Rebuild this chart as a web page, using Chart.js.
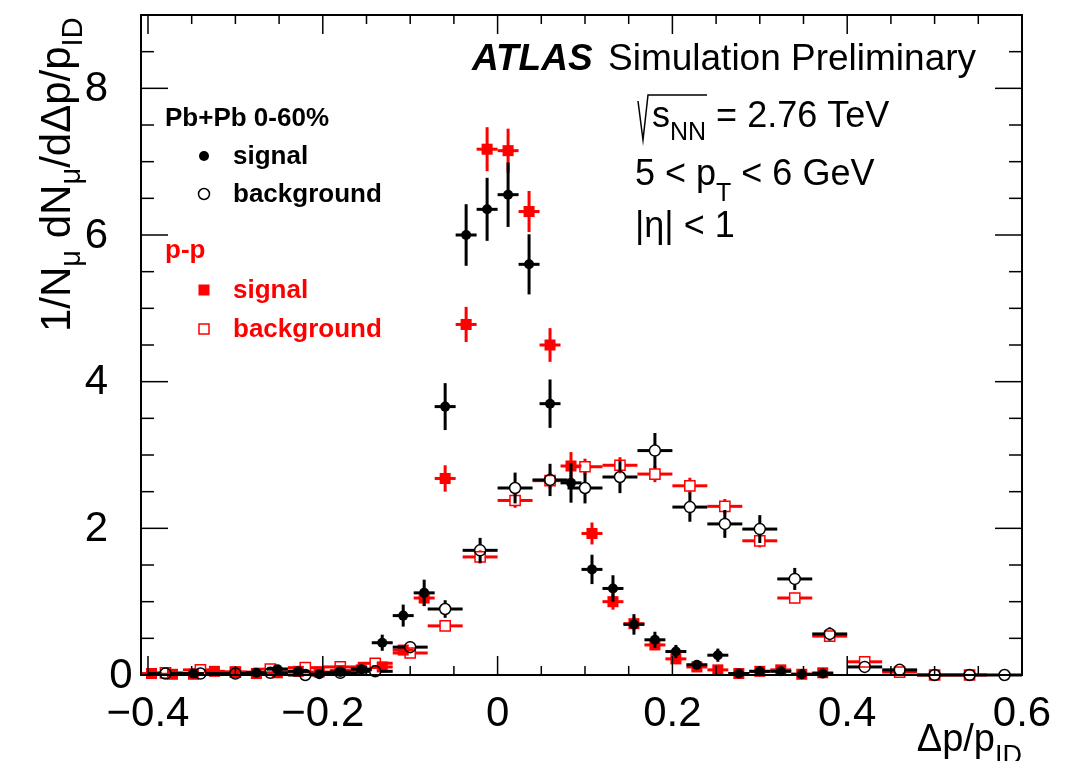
<!DOCTYPE html>
<html>
<head>
<meta charset="utf-8">
<title>Muon momentum balance</title>
<script src="https://cdn.jsdelivr.net/npm/chart.js@4.4.0/dist/chart.umd.min.js"></script>
<style>
  html, body { margin: 0; padding: 0; background: #fff; }
</style>
</head>
<body>
<canvas id="balanceChart" width="1080" height="761"></canvas>
<script>
const FONT = '"Liberation Sans", Arial, Helvetica, sans-serif';
const RED = '#ff0000';

// bin centres: signal histograms use 0.024 wide bins, background 0.04
const signalBins = [
    -0.396, -0.372, -0.348, -0.324, -0.300, -0.276, -0.252, -0.228, -0.204, -0.180, -0.156,
    -0.132, -0.108, -0.084, -0.060, -0.036, -0.012, 0.012, 0.036, 0.060, 0.084, 0.108,
    0.132, 0.156, 0.180, 0.204, 0.228, 0.252, 0.276, 0.300, 0.324, 0.348, 0.372
];
const backgroundBins = [
    -0.38, -0.34, -0.30, -0.26, -0.22, -0.18, -0.14, -0.10, -0.06, -0.02, 0.02, 0.06, 0.10,
    0.14, 0.18, 0.22, 0.26, 0.30, 0.34, 0.38, 0.42, 0.46, 0.50, 0.54, 0.58
];

const pbpbSignal = [
    null, null, 0.02, null, null, 0.03, 0.08, 0.05, 0.01, 0.04, 0.08,
    0.44, 0.81, 1.12, 3.66, 6.00, 6.35, 6.55, 5.60, 3.70, 2.62, 1.44,
    1.18, 0.69, 0.48, 0.32, 0.14, 0.27, 0.02, 0.05, 0.05, 0.01, 0.02
];
const pbpbSignalErr = [
    null, null, 0.02, null, null, 0.03, 0.05, 0.04, 0.02, 0.04, 0.05,
    0.11, 0.15, 0.18, 0.32, 0.42, 0.43, 0.44, 0.41, 0.33, 0.27, 0.20,
    0.18, 0.14, 0.11, 0.09, 0.06, 0.09, 0.02, 0.04, 0.04, 0.02, 0.02
];
const ppSignal = [
    0.02, 0.01, 0.01, 0.05, 0.04, 0.02, 0.03, 0.05, 0.04, 0.06, 0.07,
    0.11, 0.34, 1.05, 2.68, 4.78, 7.17, 7.15, 6.32, 4.50, 2.85, 1.93,
    1.00, 0.70, 0.41, 0.22, 0.11, 0.07, 0.02, 0.05, 0.07, 0.01, 0.03
];
const ppSignalErr = [
    0.02, 0.01, 0.01, 0.02, 0.02, 0.02, 0.02, 0.02, 0.02, 0.03, 0.03,
    0.04, 0.07, 0.11, 0.18, 0.24, 0.30, 0.30, 0.28, 0.23, 0.19, 0.15,
    0.11, 0.09, 0.07, 0.05, 0.04, 0.03, 0.02, 0.02, 0.03, 0.01, 0.02
];
const pbpbBackground = [
    0.02, 0.02, 0.02, 0.03, 0.00, 0.03, 0.05, 0.38, 0.90, 1.70, 2.55, 2.66, 2.55,
    2.70, 3.06, 2.29, 2.06, 1.99, 1.31, 0.56, 0.11, 0.07, 0.00, 0.00, 0.00
];
const pbpbBackgroundErr = [
    0.02, 0.02, 0.02, 0.03, 0.01, 0.03, 0.03, 0.08, 0.12, 0.17, 0.21, 0.22, 0.21,
    0.22, 0.24, 0.20, 0.19, 0.19, 0.15, 0.09, 0.04, 0.03, 0.01, 0.01, 0.01
];
const ppBackground = [
    0.03, 0.07, 0.04, 0.08, 0.10, 0.11, 0.16, 0.30, 0.67, 1.61, 2.38, 2.65, 2.84,
    2.86, 2.74, 2.58, 2.30, 1.83, 1.05, 0.53, 0.18, 0.04, 0.00, 0.00, null
];
const ppBackgroundErr = [
    0.01, 0.02, 0.01, 0.02, 0.02, 0.02, 0.03, 0.04, 0.06, 0.09, 0.10, 0.11, 0.11,
    0.11, 0.11, 0.11, 0.10, 0.09, 0.07, 0.05, 0.03, 0.01, 0.01, 0.01, null
];

const xTicks = [-0.4, -0.2, 0, 0.2, 0.4, 0.6];
const xTickLabels = ['\u22120.4', '\u22120.2', '0', '0.2', '0.4', '0.6'];
const yTicks = [0, 2, 4, 6, 8];
const yTickLabels = ['0', '2', '4', '6', '8'];

function toPoints(xs, ys, errs) {
    return xs.map((x, i) => ys[i] == null ? null : { x: x, y: ys[i], err: errs[i] })
             .filter(p => p !== null);
}

// draws a run of text pieces (normal + sub-scripts) and returns the end x
function drawRich(ctx, x, y, parts) {
    let cx = x;
    parts.forEach(p => {
        ctx.font = p.font;
        ctx.fillText(p.t, cx, y + (p.dy || 0));
        cx += ctx.measureText(p.t).width;
    });
    return cx;
}

function richWidth(ctx, parts) {
    let w = 0;
    parts.forEach(p => { ctx.font = p.font; w += ctx.measureText(p.t).width; });
    return w;
}

function line(ctx, x1, y1, x2, y2) {
    ctx.beginPath();
    ctx.moveTo(x1, y1);
    ctx.lineTo(x2, y2);
    ctx.stroke();
}

// error bars are drawn just before each dataset so markers sit on top of them
const errorBars = {
    id: 'errorBars',
    beforeDatasetDraw(chart, args) {
        const ds = chart.data.datasets[args.index];
        const xs = chart.scales.x, ys = chart.scales.y;
        const ctx = chart.ctx;
        const gap = ds.barGap || 0;
        ctx.save();
        ctx.strokeStyle = ds.barColor;
        ctx.lineWidth = 3;
        ds.data.forEach(p => {
            const cx = xs.getPixelForValue(p.x);
            const cy = ys.getPixelForValue(p.y);
            const xl = xs.getPixelForValue(p.x - ds.halfWidth);
            const xr = xs.getPixelForValue(p.x + ds.halfWidth);
            const yt = ys.getPixelForValue(p.y + p.err);
            const yb = ys.getPixelForValue(Math.max(0, p.y - p.err));
            line(ctx, xl, cy, cx - gap, cy);
            line(ctx, cx + gap, cy, xr, cy);
            if (yt < cy - gap) line(ctx, cx, yt, cx, cy - gap);
            if (yb > cy + gap) line(ctx, cx, cy + gap, cx, yb);
        });
        ctx.restore();
    }
};

// frame, inward ticks, axis labels, titles and the text boxes
const decorations = {
    id: 'decorations',
    afterDraw(chart) {
        const ctx = chart.ctx;
        const a = chart.chartArea;
        const xs = chart.scales.x, ys = chart.scales.y;
        ctx.save();
        ctx.strokeStyle = '#000';
        ctx.fillStyle = '#000';

        ctx.lineWidth = 2;
        ctx.strokeRect(a.left, a.top, a.right - a.left, a.bottom - a.top);

        ctx.lineWidth = 1.5;
        for (let i = 0; i <= 20; i++) {
            const v = -0.4 + i * 0.05;
            const px = xs.getPixelForValue(v);
            const len = i % 4 === 0 ? 19 : 9;
            line(ctx, px, a.bottom, px, a.bottom - len);
            line(ctx, px, a.top, px, a.top + len);
        }
        for (let i = 0; i <= 18; i++) {
            const v = i * 0.5;
            const py = ys.getPixelForValue(v);
            const len = i % 4 === 0 ? 27 : 13;
            line(ctx, a.left, py, a.left + len, py);
            line(ctx, a.right, py, a.right - len, py);
        }

        // tick labels
        ctx.font = '42px ' + FONT;
        ctx.textBaseline = 'middle';
        ctx.textAlign = 'center';
        xTicks.forEach((v, i) => {
            ctx.fillText(xTickLabels[i], xs.getPixelForValue(v), 714);
        });
        yTicks.forEach((v, i) => {
            const py = ys.getPixelForValue(v);
            if (v === 0) {
                ctx.textAlign = 'center';
                ctx.fillText(yTickLabels[i], 121, py + 1);
            } else {
                ctx.textAlign = 'right';
                ctx.fillText(yTickLabels[i], 108, py + 1);
            }
        });

        ctx.textBaseline = 'alphabetic';
        ctx.textAlign = 'left';

        // x title, right aligned with the frame
        const big = '38px ' + FONT, small = '27px ' + FONT;
        const xTitle = [
            { t: '\u0394p/p', font: big },
            { t: 'ID', font: small, dy: 13 }
        ];
        drawRich(ctx, a.right - richWidth(ctx, xTitle), 751, xTitle);

        // y title, rotated
        const yBig = '42px ' + FONT, ySmall = '29px ' + FONT;
        ctx.save();
        ctx.translate(70, 332);
        ctx.rotate(-Math.PI / 2);
        drawRich(ctx, 0, 0, [
            { t: '1/N', font: yBig },
            { t: '\u03bc', font: ySmall, dy: 10 },
            { t: ' dN', font: yBig },
            { t: '\u03bc', font: ySmall, dy: 10 },
            { t: '/d\u0394p/p', font: yBig },
            { t: 'ID', font: ySmall, dy: 12 }
        ]);
        ctx.restore();

        // experiment label
        ctx.font = 'italic bold 37px ' + FONT;
        ctx.fillText('ATLAS', 472, 70);
        ctx.font = '37px ' + FONT;
        ctx.fillText('Simulation Preliminary', 608, 70);

        const t36 = '36px ' + FONT, t25 = '25px ' + FONT;
        ctx.lineWidth = 1.5;
        ctx.beginPath();
        ctx.moveTo(638, 101);
        ctx.lineTo(643, 140);
        ctx.lineTo(648, 95);
        ctx.lineTo(707, 95);
        ctx.stroke();
        drawRich(ctx, 652, 127, [
            { t: 's', font: t36 },
            { t: 'NN', font: t25, dy: 13 },
            { t: ' = 2.76 TeV', font: t36 }
        ]);
        drawRich(ctx, 635, 185, [
            { t: '5 < p', font: t36 },
            { t: 'T', font: t25, dy: 16 },
            { t: ' < 6 GeV', font: t36 }
        ]);
        drawRich(ctx, 635, 237, [
            { t: '|\u03b7| < 1', font: t36 }
        ]);

        // legend
        const lb = 'bold 26px ' + FONT;
        ctx.font = lb;
        ctx.fillText('Pb+Pb 0-60%', 165, 126);
        ctx.fillText('signal', 233, 164);
        ctx.fillText('background', 233, 202);
        ctx.beginPath();
        ctx.arc(204, 156, 5, 0, Math.PI * 2);
        ctx.fill();
        ctx.beginPath();
        ctx.arc(204, 194, 5.5, 0, Math.PI * 2);
        ctx.stroke();

        ctx.fillStyle = RED;
        ctx.strokeStyle = RED;
        ctx.fillText('p-p', 165, 258);
        ctx.fillText('signal', 233, 298);
        ctx.fillText('background', 233, 337);
        ctx.fillRect(198.5, 284.5, 11, 11);
        ctx.strokeRect(199, 324, 10, 10);

        ctx.restore();
    }
};

const ctx = document.getElementById('balanceChart').getContext('2d');

new Chart(ctx, {
    type: 'scatter',
    data: {
        datasets: [
            {
                label: 'Pb+Pb signal',
                data: toPoints(signalBins, pbpbSignal, pbpbSignalErr),
                pointStyle: 'circle',
                pointRadius: 5,
                backgroundColor: '#000',
                borderColor: '#000',
                borderWidth: 0,
                barColor: '#000',
                halfWidth: 0.012,
                clip: false
            },
            {
                label: 'Pb+Pb background',
                data: toPoints(backgroundBins, pbpbBackground, pbpbBackgroundErr),
                pointStyle: 'circle',
                pointRadius: 5.5,
                backgroundColor: 'rgba(0,0,0,0)',
                borderColor: '#000',
                borderWidth: 1.5,
                barColor: '#000',
                barGap: 5.5,
                halfWidth: 0.02,
                clip: false
            },
            {
                label: 'p-p signal',
                data: toPoints(signalBins, ppSignal, ppSignalErr),
                pointStyle: 'rect',
                pointRadius: 7.8,
                backgroundColor: RED,
                borderColor: RED,
                borderWidth: 0,
                barColor: RED,
                halfWidth: 0.012,
                clip: false
            },
            {
                label: 'p-p background',
                data: toPoints(backgroundBins, ppBackground, ppBackgroundErr),
                pointStyle: 'rect',
                pointRadius: 7.2,
                backgroundColor: 'rgba(0,0,0,0)',
                borderColor: RED,
                borderWidth: 1.5,
                barColor: RED,
                barGap: 5,
                halfWidth: 0.02,
                clip: false
            }
        ]
    },
    options: {
        responsive: false,
        animation: false,
        devicePixelRatio: 1,
        events: [],
        layout: {
            padding: { left: 141, right: 58, top: 15, bottom: 86 }
        },
        scales: {
            x: { type: 'linear', min: -0.408, max: 0.6, display: false },
            y: { type: 'linear', min: 0, max: 9, display: false }
        },
        plugins: {
            legend: { display: false },
            tooltip: { enabled: false }
        }
    },
    plugins: [errorBars, decorations]
});
</script>
</body>
</html>
